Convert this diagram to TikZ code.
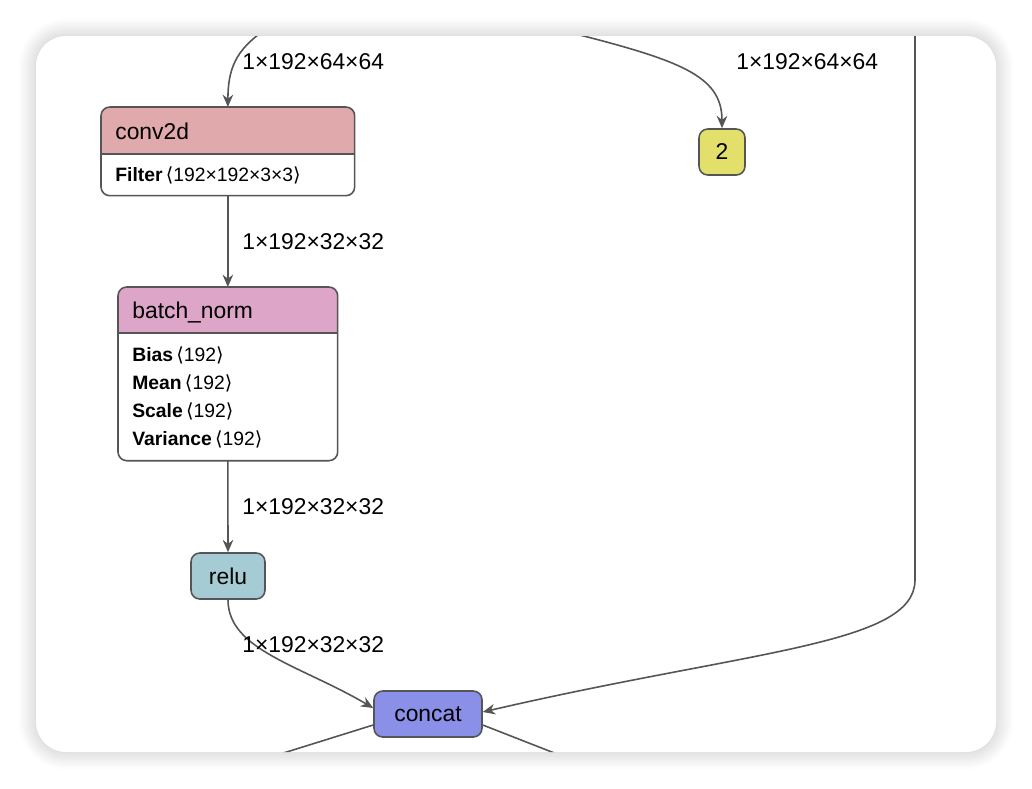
\documentclass[tikz,border=0pt]{standalone}
\usepackage{fontspec}
\setmainfont{Liberation Sans}
\newfontfamily\djv{DejaVu Sans}
\usetikzlibrary{positioning,calc,shadows.blur,arrows.meta}
\definecolor{edgec}{HTML}{555555}
\definecolor{convc}{HTML}{E0A9AB}
\definecolor{bnc}{HTML}{DDA5C8}
\definecolor{reluc}{HTML}{A5CCD4}
\definecolor{catc}{HTML}{8A8FE8}
\definecolor{twoc}{HTML}{E2E06A}
\newcommand{\dims}[1]{\,{\djv\char"27E8}#1{\djv\char"27E9}}
\tikzset{
  op/.style={draw=edgec, line width=0.9pt, rounded corners=5pt, font=\fontsize{13}{15}\selectfont, inner sep=0pt},
  box/.style={inner sep=0pt, anchor=north west},
  title/.style={anchor=west, inner sep=0pt, font=\fontsize{13}{15}\selectfont},
  edge/.style={draw=edgec, line width=0.9pt, -{Stealth[length=7pt,width=6pt]}},
  dim/.style={font=\fontsize{13}{15}\selectfont, anchor=west, inner sep=0pt},
  attr/.style={font=\fontsize{11}{13}\selectfont, anchor=west, inner sep=0pt},
}
\begin{document}
\begin{tikzpicture}
\useasboundingbox (0,0) rectangle (20.64,-15.76);
% card
\fill[white, rounded corners=0.6cm, blur shadow={shadow blur steps=8, shadow xshift=0pt, shadow yshift=0pt, shadow blur radius=0.35cm, shadow opacity=25}] (0.72,-0.72) rectangle (19.92,-15.04);
\begin{scope}
\clip[rounded corners=0.6cm] (0.72,-0.72) rectangle (19.92,-15.04);
% conv2d
\node[box, minimum width=5.06cm, minimum height=1.76cm] (conv) at (2.02,-2.14) {};
\fill[convc] ([yshift=-0.94cm]conv.north west) [rounded corners=5pt] -- (conv.north west) -- (conv.north east) [sharp corners] -- ([yshift=-0.94cm]conv.north east) -- cycle;
\draw[edgec, line width=0.9pt, rounded corners=5pt] (conv.north west) rectangle (conv.south east);
\draw[edgec, line width=0.9pt] ([yshift=-0.94cm]conv.north west) -- ([yshift=-0.94cm]conv.north east);
\node[title] (convt) at ([xshift=0.28cm,yshift=-0.49cm]conv.north west) {conv2d};
\node[attr] (convf) at ([xshift=0.28cm,yshift=-1.36cm]conv.north west) {\textbf{Filter}\dims{192×192×3×3}};
% batch_norm
\node[box, minimum width=4.38cm, minimum height=3.46cm] (bn) at (2.36,-5.74) {};
\fill[bnc] ([yshift=-0.92cm]bn.north west) [rounded corners=5pt] -- (bn.north west) -- (bn.north east) [sharp corners] -- ([yshift=-0.92cm]bn.north east) -- cycle;
\draw[edgec, line width=0.9pt, rounded corners=5pt] (bn.north west) rectangle (bn.south east);
\draw[edgec, line width=0.9pt] ([yshift=-0.92cm]bn.north west) -- ([yshift=-0.92cm]bn.north east);
\node[title] (bnt) at ([xshift=0.28cm,yshift=-0.5cm]bn.north west) {batch\_norm};
\node[attr] (bn1) at ([xshift=0.28cm,yshift=-1.36cm]bn.north west) {\textbf{Bias}\dims{192}};
\node[attr] (bn2) at ([xshift=0.28cm,yshift=-1.92cm]bn.north west) {\textbf{Mean}\dims{192}};
\node[attr] (bn3) at ([xshift=0.28cm,yshift=-2.48cm]bn.north west) {\textbf{Scale}\dims{192}};
\node[attr] (bn4) at ([xshift=0.28cm,yshift=-3.04cm]bn.north west) {\textbf{Variance}\dims{192}};
% small ops
\node[op, fill=reluc, minimum width=1.48cm, minimum height=0.92cm] (relu) at (4.56,-11.52) {relu};
\node[op, fill=catc, minimum width=2.16cm, minimum height=0.92cm] (concat) at (8.56,-14.28) {concat};
\node[op, fill=twoc, minimum width=0.92cm, minimum height=0.92cm] (two) at (14.44,-3.04) {2};
% free ends
\coordinate (inA) at (5.3,-0.6);
\coordinate (inB) at (11.2,-0.6);
\coordinate (inC) at (18.3,-0.6);
\coordinate (outA) at (4.9,-15.3);
\coordinate (outB) at (11.7,-15.3);
% edges
\draw[edge] (inA) .. controls (4.7,-1.0) and (4.56,-1.4) .. (conv.north);
\node[dim] at (4.84,-1.24) {1×192×64×64};
\draw[edge] (inB) .. controls (13.6,-1.2) and (14.44,-1.5) .. (two.north);
\node[dim] at (14.72,-1.24) {1×192×64×64};
\draw[edge] (conv.south) -- (bn.north);
\node[dim] at (4.84,-4.84) {1×192×32×32};
\draw[edge] (bn.south) -- (relu.north);
\node[dim] at (4.84,-10.14) {1×192×32×32};
\draw[edge] (relu.south) .. controls (4.56,-13.0) and (6.0,-13.3) .. ([yshift=0.12cm]concat.west);
\node[dim] at (4.84,-12.9) {1×192×32×32};
\draw[edge] (inC) -- (18.3,-11.6) .. controls (18.3,-12.9) and (15.0,-13.0) .. ([yshift=0.04cm]concat.east);
\draw[edgec, line width=0.9pt] ([yshift=-0.22cm]concat.west) -- (outA);
\draw[edgec, line width=0.9pt] ([yshift=-0.22cm]concat.east) -- (outB);
\end{scope}
\end{tikzpicture}
\end{document}
